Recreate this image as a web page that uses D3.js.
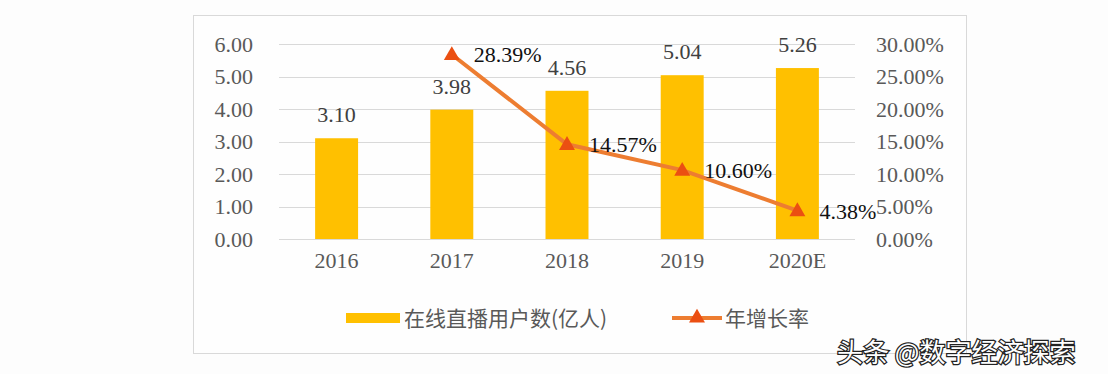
<!DOCTYPE html>
<html>
<head>
<meta charset="utf-8">
<script src="https://cdn.jsdelivr.net/npm/d3@7"></script>
<style>
  body { margin: 0; background: #fdfdfd; }
  svg { display: block; }
</style>
</head>
<body>
<svg id="chart" width="1108" height="374"></svg>
<script>
// dados
const anos = ["2016", "2017", "2018", "2019", "2020E"];
const usuarios = [3.10, 3.98, 4.56, 5.04, 5.26];
const crescimento = [null, 0.2839, 0.1457, 0.1060, 0.0438];
const ticksEsq = [0, 1, 2, 3, 4, 5, 6];
const ticksDir = [0, 0.05, 0.10, 0.15, 0.20, 0.25, 0.30];
const nomeBarras = "在线直播用户数(亿人)";
const nomeLinha = "年增长率";
const marcaDagua = "头条 @数字经济探索";

const svg = d3.select("#chart");
const serif = "'Liberation Serif', 'Times New Roman', serif";
const cjk = "'Noto Sans CJK SC', sans-serif";

// moldura do gráfico
svg.append("rect")
  .attr("x", 193.5).attr("y", 15.5)
  .attr("width", 773).attr("height", 338)
  .attr("fill", "#fefefe")
  .attr("stroke", "#d9d9d9");

const x = d3.scaleBand().domain(anos).range([279, 855])
  .paddingInner(0.627).paddingOuter(0.3135);
const yEsq = d3.scaleLinear().domain([0, 6]).range([239, 44]);
const yDir = d3.scaleLinear().domain([0, 0.30]).range([239, 44]);

// linhas de grade
svg.append("g").selectAll("line")
  .data(ticksEsq)
  .enter().append("line")
  .attr("x1", 279).attr("x2", 855)
  .attr("y1", d => Math.round(yEsq(d)) + 0.5)
  .attr("y2", d => Math.round(yEsq(d)) + 0.5)
  .attr("stroke", "#d9d9d9").attr("stroke-width", 1);

// eixo esquerdo
const eixoEsq = svg.append("g")
  .attr("transform", "translate(253,0)")
  .call(d3.axisLeft(yEsq).tickValues(ticksEsq).tickFormat(d3.format(".2f")).tickSize(0).tickPadding(0));
eixoEsq.select(".domain").remove();
eixoEsq.selectAll("text")
  .attr("font-family", serif).attr("font-size", 22).attr("fill", "#595959");

// eixo direito
const eixoDir = svg.append("g")
  .attr("transform", "translate(876,0)")
  .call(d3.axisRight(yDir).tickValues(ticksDir).tickFormat(d3.format(".2%")).tickSize(0).tickPadding(0));
eixoDir.select(".domain").remove();
eixoDir.selectAll("text")
  .attr("font-family", serif).attr("font-size", 22).attr("fill", "#595959");

// eixo x
const eixoX = svg.append("g")
  .attr("transform", "translate(0,252)")
  .call(d3.axisBottom(x).tickSize(0).tickPadding(0));
eixoX.select(".domain").remove();
eixoX.selectAll("text")
  .attr("dy", "0.71em")
  .attr("font-family", serif).attr("font-size", 22).attr("fill", "#595959");

// barras
svg.append("g").selectAll("rect")
  .data(usuarios)
  .enter().append("rect")
  .attr("x", (d, i) => x(anos[i]))
  .attr("y", d => yEsq(d))
  .attr("width", x.bandwidth())
  .attr("height", d => yEsq(0) - yEsq(d))
  .attr("fill", "#ffc000");

svg.append("g").selectAll("text")
  .data(usuarios)
  .enter().append("text")
  .attr("x", (d, i) => x(anos[i]) + x.bandwidth() / 2)
  .attr("y", d => yEsq(d) - 16)
  .attr("text-anchor", "middle")
  .attr("font-family", serif).attr("font-size", 22).attr("fill", "#404040")
  .text(d => d.toFixed(2));

// linha de crescimento
const pontos = anos.map((a, i) => ({ ano: a, v: crescimento[i] })).filter(d => d.v !== null);
const cx = d => x(d.ano) + x.bandwidth() / 2;

svg.append("path")
  .datum(pontos)
  .attr("d", d3.line().x(cx).y(d => yDir(d.v)))
  .attr("fill", "none")
  .attr("stroke", "#ed7d31")
  .attr("stroke-width", 4);

const triangulo = d3.symbol().type(d3.symbolTriangle).size(110);
svg.append("g").selectAll("path")
  .data(pontos)
  .enter().append("path")
  .attr("d", triangulo)
  .attr("transform", d => `translate(${cx(d)},${yDir(d.v) + 1})`)
  .attr("fill", "#eb4f12");

svg.append("g").selectAll("text")
  .data(pontos)
  .enter().append("text")
  .attr("x", d => cx(d) + 22)
  .attr("y", d => yDir(d.v) + 8)
  .attr("font-family", serif).attr("font-size", 22).attr("fill", "#111")
  .text(d => (d.v * 100).toFixed(2) + "%");

// legenda
const leg = svg.append("g").attr("transform", "translate(0,318)");
leg.append("rect")
  .attr("x", 346).attr("y", -5).attr("width", 54).attr("height", 10)
  .attr("fill", "#ffc000");
leg.append("text")
  .attr("x", 404).attr("y", 8)
  .attr("font-family", cjk).attr("font-size", 21).attr("fill", "#595959")
  .text(nomeBarras);
leg.append("line")
  .attr("x1", 672).attr("x2", 722).attr("y1", 0).attr("y2", 0)
  .attr("stroke", "#ed7d31").attr("stroke-width", 4);
leg.append("path")
  .attr("d", triangulo)
  .attr("transform", "translate(697,0)")
  .attr("fill", "#eb4f12");
leg.append("text")
  .attr("x", 725).attr("y", 8)
  .attr("font-family", cjk).attr("font-size", 21).attr("fill", "#595959")
  .text(nomeLinha);

// marca d'água
svg.append("text")
  .attr("x", 837).attr("y", 362)
  .attr("font-family", cjk).attr("font-size", 26)
  .attr("fill", "#ffffff").attr("stroke", "#222").attr("stroke-width", 2.5)
  .attr("paint-order", "stroke")
  .text(marcaDagua);
</script>
</body>
</html>
